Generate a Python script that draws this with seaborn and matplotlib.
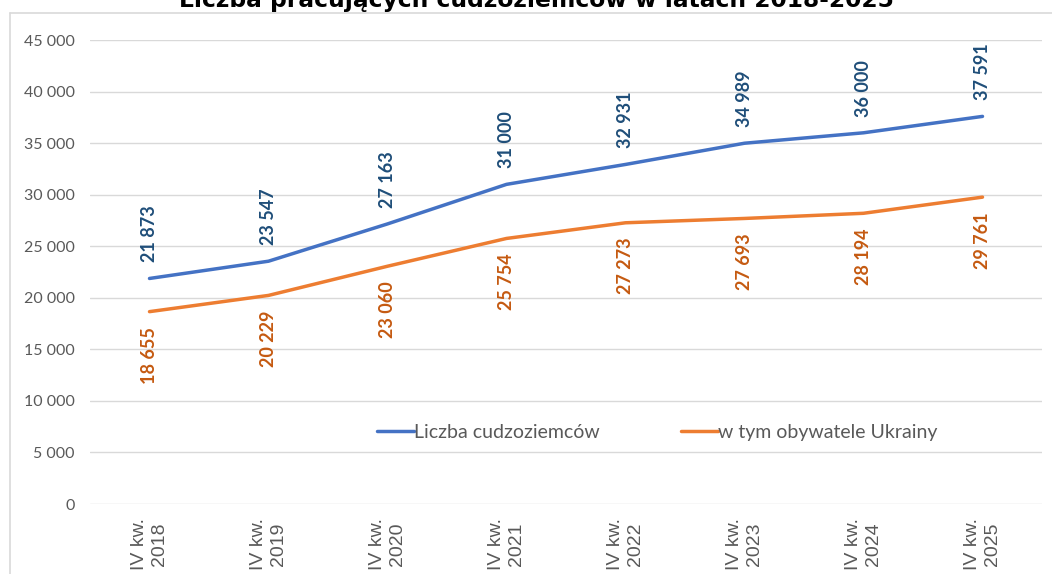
import matplotlib
matplotlib.use("Agg")
import matplotlib.pyplot as plt
import pandas as pd
import seaborn as sns
from matplotlib.lines import Line2D

quarters = ["IV kw.\n2018", "IV kw.\n2019", "IV kw.\n2020", "IV kw.\n2021",
            "IV kw.\n2022", "IV kw.\n2023", "IV kw.\n2024", "IV kw.\n2025"]
foreigners = [21873, 23547, 27163, 31000, 32931, 34989, 36000, 37591]
ukrainians = [18655, 20229, 23060, 25754, 27273, 27693, 28194, 29761]
series_names = ["Liczba cudzoziemców", "w tym obywatele Ukrainy"]
y_ticks = [0, 5000, 10000, 15000, 20000, 25000, 30000, 35000, 40000, 45000]

line_colors = ["#4472C4", "#ED7D31"]
label_colors = ["#1F4E79", "#C55A11"]
grey = "#595959"

df = pd.DataFrame({
    "kwartal": quarters * 2,
    "liczba": foreigners + ukrainians,
    "seria": [series_names[0]] * len(quarters) + [series_names[1]] * len(quarters),
})

sns.set_theme(style="white")
plt.rcParams["font.family"] = ["Lato", "DejaVu Sans"]

fig = plt.figure(figsize=(10.52, 5.74), dpi=100)
ax = fig.add_axes([90 / 1052, 70 / 574, 952 / 1052, 464 / 574])

sns.lineplot(data=df, x="kwartal", y="liczba", hue="seria", palette=line_colors,
             linewidth=2.5, sort=False, ax=ax)

# etykiety danych nad / pod punktami
for vals, color, above in [(foreigners, label_colors[0], True),
                           (ukrainians, label_colors[1], False)]:
    for i, v in enumerate(vals):
        ax.annotate(f"{v:,}".replace(",", " "), (i, v),
                    xytext=(0, 16 if above else -15), textcoords="offset pixels",
                    rotation=90, ha="center", va="bottom" if above else "top",
                    color=color, fontsize=13, fontweight="bold")

ax.set_xlim(-0.5, len(quarters) - 0.5)
ax.set_ylim(0, 45000)
ax.set_yticks(y_ticks)
ax.set_yticklabels([f"{v:,}".replace(",", " ") for v in y_ticks],
                   fontsize=11.5, color=grey)
ax.set_xticks(range(len(quarters)))
ax.set_xticklabels(quarters, rotation=90, fontsize=14, color=grey,
                   family=["Liberation Sans", "DejaVu Sans"],
                   multialignment="center")
ax.tick_params(axis="both", length=0)
ax.tick_params(axis="y", pad=11)
ax.tick_params(axis="x", pad=10)
ax.set_xlabel("")
ax.set_ylabel("")
ax.grid(axis="y", color="#D9D9D9", linewidth=1)
for s in ax.spines.values():
    s.set_visible(False)

leg = ax.legend(loc="center", bbox_to_anchor=(0.596, 0.155), ncol=2,
                frameon=False, fontsize=14, handlelength=1.9,
                handletextpad=0.0, columnspacing=4.2)
for t in leg.get_texts():
    t.set_color(grey)
for h in leg.get_lines():
    h.set_linewidth(2.5)

# ramka wykresu (przycięta)
fig.add_artist(Line2D([10 / 1052, 1], [1 - 13 / 574] * 2, color="#D9D9D9", lw=1.2))
fig.add_artist(Line2D([10 / 1052] * 2, [0, 1 - 13 / 574], color="#D9D9D9", lw=1.2))

fig.text(536 / 1052, 1 - 7 / 574, "Liczba pracujących cudzoziemców w latach 2018-2025",
         ha="center", va="baseline", fontsize=16.8, fontweight="bold", color="#000000",
         family=["DejaVu Sans"])

fig.savefig("out.png", dpi=100)
